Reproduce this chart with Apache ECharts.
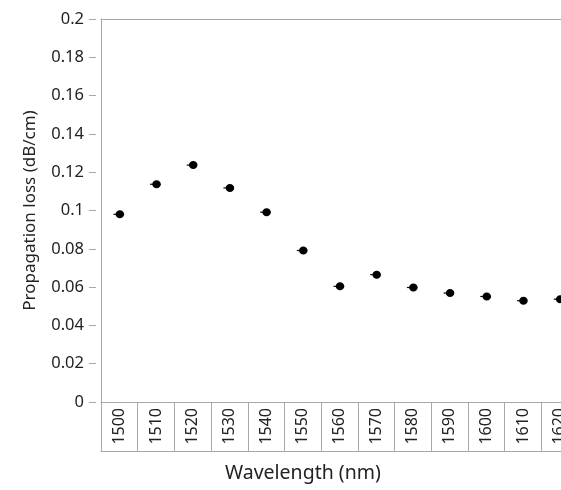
<!DOCTYPE html>
<html>
<head>
<meta charset="utf-8">
<script src="https://cdn.jsdelivr.net/npm/echarts@6/dist/echarts.min.js"></script>
<style>
  html, body { margin: 0; padding: 0; background: #fff; overflow: hidden; }
  #chart { width: 561px; height: 490px; }
</style>
</head>
<body>
<div id="chart"></div>
<script>
// 数据
const wavelengths = ['1500', '1510', '1520', '1530', '1540', '1550', '1560', '1570', '1580', '1590', '1600', '1610', '1620'];
const lossValues = [0.098, 0.1137, 0.1237, 0.1118, 0.0991, 0.0791, 0.0604, 0.0665, 0.0598, 0.0569, 0.0551, 0.0529, 0.0537];
const yTicks = { min: 0, max: 0.2, interval: 0.02 };

const lineColor = '#a8a8a8';
const textColor = '#222';
const fontName = 'Noto Sans';

const chartDom = document.getElementById('chart');
const myChart = echarts.init(chartDom, null, { renderer: 'canvas' });

const option = {
    animation: false,
    backgroundColor: '#fff',
    textStyle: { fontFamily: fontName },
    title: {
        text: 'Wavelength (nm)',
        left: 225,
        top: 463,
        padding: 0,
        textStyle: { fontFamily: fontName, fontSize: 19.5, fontWeight: 'normal', color: textColor }
    },
    // 网格右侧超出画布（参考图被裁切）
    grid: { left: 101, top: 19, width: 477, bottom: 88, containLabel: false, outerBoundsMode: 'none' },
    xAxis: [
        {
            type: 'category',
            data: wavelengths,
            position: 'bottom',
            boundaryGap: true,
            axisLine: { show: true, onZero: false, lineStyle: { color: lineColor, width: 1 } },
            axisTick: { show: true, length: 49, alignWithLabel: false, lineStyle: { color: lineColor } },
            axisLabel: { rotate: 90, margin: 6, fontSize: 16, color: textColor, fontFamily: fontName, hideOverlap: false },
            splitLine: { show: false }
        },
        {
            // 标签框底线
            type: 'category',
            data: wavelengths,
            position: 'bottom',
            offset: 49,
            axisLine: { show: true, onZero: false, lineStyle: { color: lineColor, width: 1 } },
            axisTick: { show: false },
            axisLabel: { show: false }
        },
        {
            // 顶部边框
            type: 'category',
            data: wavelengths,
            position: 'top',
            axisLine: { show: true, onZero: false, lineStyle: { color: lineColor, width: 1 } },
            axisTick: { show: false },
            axisLabel: { show: false }
        }
    ],
    yAxis: [
        {
            type: 'value',
            min: yTicks.min,
            max: yTicks.max,
            interval: yTicks.interval,
            axisLine: { show: true, onZero: false, lineStyle: { color: lineColor, width: 1 } },
            axisTick: { show: false },
            axisLabel: { show: false },
            splitLine: { show: false }
        },
        {
            type: 'value',
            min: yTicks.min,
            max: yTicks.max,
            interval: yTicks.interval,
            position: 'left',
            offset: 5,
            name: 'Propagation loss (dB/cm)',
            nameLocation: 'middle',
            nameGap: 57,
            nameTextStyle: { fontSize: 17, color: textColor, fontFamily: fontName },
            axisLine: { show: false },
            axisTick: { show: true, length: 7, lineStyle: { color: lineColor } },
            axisLabel: {
                margin: 12,
                fontSize: 16.5,
                color: textColor,
                fontFamily: fontName,
                formatter: function (v) { return String(parseFloat(v.toFixed(2))); }
            },
            splitLine: { show: false }
        }
    ],
    series: [{
        type: 'custom',
        xAxisIndex: 0,
        yAxisIndex: 0,
        clip: false,
        data: wavelengths.map((w, i) => [i, lossValues[i]]),
        renderItem: function (params, api) {
            const p = api.coord([api.value(0), api.value(1)]);
            return {
                type: 'group',
                children: [
                    { type: 'line', shape: { x1: p[0] - 6, y1: p[1], x2: p[0], y2: p[1] }, style: { stroke: '#111', lineWidth: 1.2 } },
                    { type: 'ellipse', shape: { cx: p[0] + 0.5, cy: p[1], rx: 4.3, ry: 4 }, style: { fill: '#000' } }
                ]
            };
        }
    }]
};

myChart.setOption(option);
</script>
</body>
</html>
